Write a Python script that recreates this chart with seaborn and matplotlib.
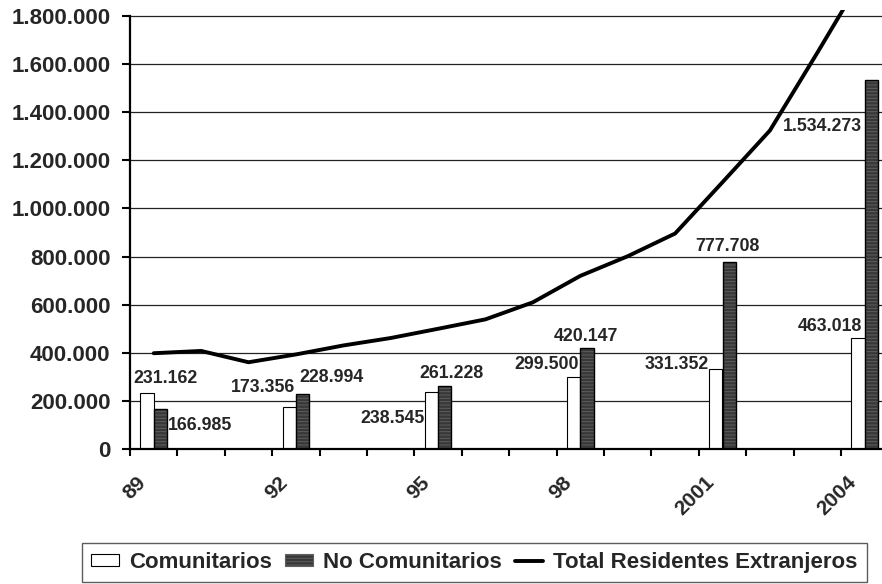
import numpy as np
import pandas as pd
import matplotlib
matplotlib.use("Agg")
import matplotlib.pyplot as plt
import matplotlib.patches as mpatches
import matplotlib.lines as mlines
import matplotlib.transforms as mtransforms
from matplotlib.ticker import FuncFormatter, FixedLocator
import seaborn as sns

# ---------------- data ----------------
years = ['89', '90', '91', '92', '93', '94', '95', '96', '97', '98',
         '99', '2000', '2001', '2002', '2003', '2004']
bar_years = ['89', '92', '95', '98', '2001', '2004']
comunitarios = [231162, 173356, 238545, 299500, 331352, 463018]
no_comunitarios = [166985, 228994, 261228, 420147, 777708, 1534273]
total = [398147, 407647, 360655, 393100, 430422, 461364, 499773, 538984,
         609813, 719647, 801329, 895720, 1109060, 1324001, 1647011, 1977291]
shown_ticks = ['89', '92', '95', '98', '2001', '2004']
series_names = ['Comunitarios', 'No Comunitarios', 'Total Residentes Extranjeros']

# ---------------- style ----------------
sns.set_style("white")
plt.rcParams['font.family'] = ['Liberation Sans', 'DejaVu Sans']
plt.rcParams['font.weight'] = 'bold'
plt.rcParams['hatch.linewidth'] = 0.7

W, H = 882, 584
fig = plt.figure(figsize=(W / 100, H / 100), dpi=100)
ax_left, ax_bottom = 130, 135
ax_right, ax_top = 882, 10
ax = fig.add_axes([ax_left / W, ax_bottom / H, (ax_right - ax_left) / W,
                   (H - ax_top - ax_bottom) / H])

df = pd.DataFrame({
    'year': bar_years * 2,
    'value': comunitarios + no_comunitarios,
    'serie': [series_names[0]] * len(bar_years) + [series_names[1]] * len(bar_years),
})

white_c = '#ffffff'
dark_c = '#383838'
hatch_c = '#5e5e5e'
sns.barplot(data=df, x='year', y='value', hue='serie', order=years,
            hue_order=series_names[:2], palette=[white_c, dark_c],
            width=0.56, dodge=True, edgecolor='black', linewidth=0.8,
            saturation=1, legend=False, ax=ax)

# hatch the dark bars and give them a black outline
dark_bars = [p for p in ax.patches if p.get_facecolor()[0] < 0.5]
for p in dark_bars:
    p.set_hatch('-----')
    p.set_edgecolor(hatch_c)
    p.set_linewidth(0.0)
    outline = mpatches.Rectangle(p.get_xy(), p.get_width(), p.get_height(),
                                 fill=False, edgecolor='black', linewidth=1.0,
                                 zorder=p.get_zorder() + 0.1)
    ax.add_patch(outline)

bar_w = 0.28
xpos = {y: i for i, y in enumerate(years)}

sns.lineplot(x=np.arange(len(years)), y=total, color='black', linewidth=2.8,
             ax=ax, legend=False, zorder=5)

# axes limits
xmax = -0.5 + (ax_right - ax_left) / 47.4
ax.set_xlim(-0.5, xmax)
ax.set_ylim(0, 1800000 * (449 - ax_top) / 433)

# y axis
ax.set_yticks(np.arange(0, 1800001, 200000))
ax.yaxis.set_major_formatter(FuncFormatter(lambda v, p: f'{int(v):,}'.replace(',', '.')))
ax.tick_params(axis='y', which='major', length=6, width=1.5, direction='out',
               pad=8, labelsize=16, color='black', left=True)
for lab in ax.get_yticklabels():
    lab.set_fontweight('bold')

ax.yaxis.grid(True, color='#222222', linewidth=0.9)
ax.xaxis.grid(False)
ax.set_axisbelow(True)

# x axis: labels at category centers, tick marks at boundaries
centers = [xpos[t] for t in shown_ticks]
ax.set_xticks(centers)
ax.set_xticklabels(shown_ticks)
ax.xaxis.set_minor_locator(FixedLocator(np.arange(-0.5, len(years), 1.0)))
ax.tick_params(axis='x', which='major', length=0, pad=22, labelsize=15)
ax.tick_params(axis='x', which='minor', length=5, width=1.5, direction='out',
               color='black', bottom=True)
offset = mtransforms.ScaledTranslation(-11 / 100, 0, fig.dpi_scale_trans)
for lab in ax.get_xticklabels():
    lab.set_rotation(45)
    lab.set_ha('right')
    lab.set_va('center')
    lab.set_rotation_mode('anchor')
    lab.set_fontweight('bold')
    lab.set_transform(lab.get_transform() + offset)

ax.set_xlabel('')
ax.set_ylabel('')

for s in ['top', 'right']:
    ax.spines[s].set_visible(False)
for s in ['left', 'bottom']:
    ax.spines[s].set_color('black')
    ax.spines[s].set_linewidth(1.6)
ax.spines['left'].set_bounds(0, 1800000)

# data labels (offsets in pixels from top centre of each bar)
white_off = [(18.6, 14.4), (-26.6, 19.3), (-38.8, -26.7), (-27, 12), (-39.2, 4.3), (-28.4, 11.6)]
dark_off = [(39.4, -16.2), (29.2, 16.2), (7, 12.9), (-1.2, 11.9), (-1.4, 15.2), (-48.6, -46.1)]
fmt = lambda v: f'{int(v):,}'.replace(',', '.')
for i, y in enumerate(bar_years):
    c = xpos[y]
    ax.annotate(fmt(comunitarios[i]), xy=(c - bar_w / 2, comunitarios[i]),
                xytext=white_off[i], textcoords='offset pixels',
                ha='center', va='center', fontsize=12.8, fontweight='bold', zorder=6)
    ax.annotate(fmt(no_comunitarios[i]), xy=(c + bar_w / 2, no_comunitarios[i]),
                xytext=dark_off[i], textcoords='offset pixels',
                ha='center', va='center', fontsize=12.8, fontweight='bold', zorder=6)

# legend
h1 = mpatches.Patch(facecolor=white_c, edgecolor='black', linewidth=0.8)
h2 = mpatches.Patch(facecolor=dark_c, edgecolor=hatch_c, hatch='-----', linewidth=0.8)
h3 = mlines.Line2D([], [], color='black', linewidth=2.8)
leg = fig.legend([h1, h2, h3], series_names, loc='upper center',
                 bbox_to_anchor=(474.5 / W, 1 - 543 / H), ncol=3, frameon=True,
                 fancybox=False, shadow=False, fontsize=16, handlelength=1.26,
                 handleheight=0.45, handletextpad=0.45, columnspacing=0.6,
                 borderpad=0.4, borderaxespad=0)
leg.get_frame().set_edgecolor('#333333')
leg.get_frame().set_linewidth(1.0)
for t in leg.get_texts():
    t.set_fontweight('bold')

fig.savefig('out.png', dpi=100)
